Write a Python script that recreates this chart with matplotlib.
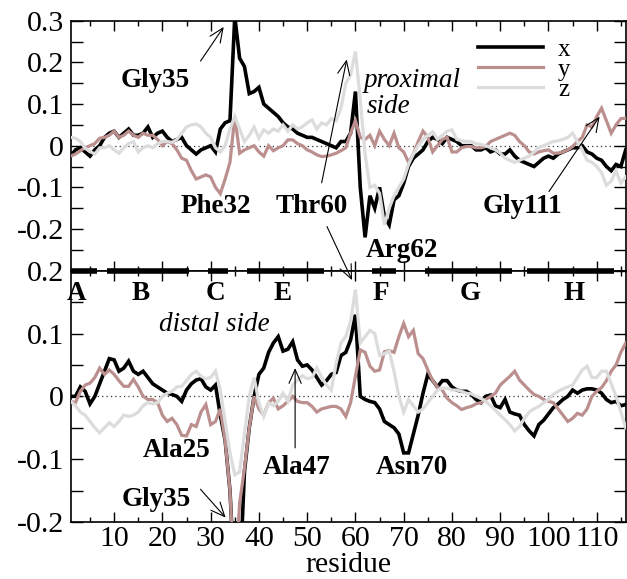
import numpy as np
import matplotlib
matplotlib.use("Agg")
import matplotlib.pyplot as plt
from matplotlib.patches import ConnectionPatch
from matplotlib.ticker import MultipleLocator, FixedLocator, FixedFormatter

plt.rcParams['font.family'] = ['Liberation Serif', 'DejaVu Serif']

residue = list(range(1, 117))

top_x = [-0.025, -0.01, -0.005, -0.015, -0.025, -0.01, 0.0, 0.02, 0.03, 0.035,
         0.02, 0.03, 0.04, 0.025, 0.025, 0.03, 0.045, 0.02, 0.03, 0.035,
         0.02, 0.01, 0.015, 0.02, 0.0, -0.01, -0.02, -0.01, -0.005, 0.0,
         -0.015, 0.04, 0.055, 0.06, 0.31, 0.21, 0.19, 0.125, 0.13, 0.14,
         0.10, 0.09, 0.08, 0.07, 0.055, 0.045, 0.04, 0.03, 0.025, 0.02,
         0.02, 0.015, 0.01, 0.005, 0.0, -0.005, 0.01, 0.01, 0.03, 0.13,
         -0.10, -0.22, -0.12, -0.15, -0.10, -0.17, -0.19, -0.13, -0.12, -0.09,
         -0.05, -0.03, -0.02, -0.01, 0.01, 0.02, 0.015, 0.005, 0.02, 0.015,
         0.01, 0.0, 0.0, 0.0, -0.01, -0.01, -0.005, -0.015, -0.01, -0.02,
         -0.02, -0.01, -0.025, -0.035, -0.04, -0.045, -0.05, -0.04, -0.03, -0.025,
         -0.03, -0.02, -0.015, -0.01, -0.005, -0.005, 0.0, -0.015, -0.02, -0.03,
         -0.035, -0.05, -0.06, -0.045, -0.05, -0.01]

top_y = [-0.025, -0.02, -0.012, -0.005, 0.0, 0.005, 0.018, 0.02, 0.025, 0.035,
         0.02, 0.025, 0.035, 0.025, 0.02, 0.03, 0.025, 0.025, 0.015, 0.0,
         0.01, 0.005, -0.01, -0.03, -0.035, -0.06, -0.08, -0.075, -0.07, -0.075,
         -0.10, -0.115, -0.08, -0.04, 0.07, -0.018, -0.01, -0.005, 0.0, -0.015,
         -0.025, 0.0, -0.012, -0.005, 0.0, 0.014, 0.014, 0.005, 0.0, -0.01,
         -0.015, -0.022, -0.026, -0.025, -0.022, -0.018, -0.012, -0.005, 0.03, 0.06,
         0.02, 0.015, 0.025, 0.0, 0.035, 0.015, 0.0, 0.03, -0.005, -0.015,
         -0.04, -0.02, 0.01, 0.035, 0.02, -0.015, 0.0, 0.015, 0.02, -0.015,
         -0.015, -0.005, -0.002, -0.002, -0.005, -0.005, -0.002, 0.01, 0.015, 0.02,
         0.025, 0.03, 0.025, 0.01, 0.0, -0.015, -0.02, -0.015, -0.012, -0.01,
         -0.018, -0.018, -0.015, -0.01, -0.002, 0.01, 0.02, 0.05, 0.045, 0.07,
         0.09, 0.06, 0.03, 0.05, 0.065, 0.066]

top_z = [0.02, 0.018, 0.01, -0.006, -0.014, -0.02, -0.005, -0.005, 0.0, -0.01,
         -0.018, -0.005, 0.005, 0.01, -0.015, -0.005, 0.0, -0.005, 0.005, 0.01,
         0.01, 0.008, 0.015, 0.03, 0.045, 0.05, 0.052, 0.045, 0.03, 0.02,
         -0.005, -0.015, 0.0, 0.04, 0.07, 0.04, 0.01, 0.025, 0.045, 0.018,
         0.038, 0.03, 0.04, 0.035, 0.05, 0.035, 0.05, 0.04, 0.045, 0.055,
         0.062, 0.04, 0.055, 0.05, 0.065, 0.06, 0.09, 0.15, 0.17, 0.226,
         0.11, -0.02, -0.10, -0.095, -0.114, -0.19, -0.15, -0.12, -0.10, -0.08,
         -0.045, -0.02, 0.0, 0.015, 0.025, 0.033, 0.015, 0.025, 0.035, 0.038,
         0.015, 0.012, 0.01, 0.01, 0.005, 0.003, 0.0, -0.005, -0.01, -0.018,
         -0.03, -0.035, -0.04, -0.035, -0.03, -0.025, -0.015, -0.005, 0.0, 0.005,
         0.01, 0.012, 0.015, 0.02, 0.03, 0.01, -0.01, -0.035, -0.04, -0.05,
         -0.065, -0.095, -0.085, -0.06, -0.09, -0.075]

bot_x = [0.0, 0.0, 0.015, 0.008, -0.012, 0.0, 0.02, 0.04, 0.06, 0.058,
         0.04, 0.045, 0.056, 0.04, 0.035, 0.04, 0.03, 0.02, 0.015, 0.01,
         0.005, 0.003, 0.0, -0.008, 0.01, 0.02, 0.026, 0.028, 0.015, 0.01,
         0.018, -0.03, -0.07, -0.15, -0.30, -0.30, -0.12, -0.05, 0.0, 0.035,
         0.045, 0.07, 0.085, 0.095, 0.072, 0.075, 0.087, 0.058, 0.048, 0.05,
         0.042, 0.03, 0.018, 0.025, 0.035, 0.038, 0.065, 0.07, 0.09, 0.13,
         0.0, -0.005, -0.008, -0.01, -0.02, -0.04, -0.045, -0.05, -0.06, -0.09,
         -0.09, -0.06, -0.03, 0.005, 0.035, 0.025, 0.015, 0.025, 0.025, 0.015,
         0.01, 0.008, 0.008, 0.003, -0.005, -0.01, 0.0, 0.002, -0.015, -0.018,
         -0.005, -0.025, -0.028, -0.03, -0.045, -0.055, -0.063, -0.045, -0.038, -0.028,
         -0.018, -0.012, -0.005, 0.0, 0.01, 0.005, 0.01, 0.012, 0.012, 0.01,
         0.005, -0.005, -0.01, -0.008, -0.015, -0.013]

bot_y = [-0.008, -0.01, 0.008, 0.018, 0.021, 0.03, 0.045, 0.035, 0.042, 0.035,
         0.025, 0.016, 0.016, 0.027, 0.015, 0.0, -0.005, -0.005, -0.01, -0.03,
         -0.04, -0.035, -0.045, -0.062, -0.063, -0.045, -0.048, -0.025, -0.013, -0.045,
         -0.04, -0.02, -0.07, -0.15, -0.30, -0.17, -0.115, -0.05, 0.0, -0.02,
         -0.03, -0.01, -0.003, -0.02, -0.015, -0.008, 0.0, -0.008, -0.01, -0.01,
         -0.016, -0.025, -0.02, -0.018, -0.016, -0.016, -0.02, -0.032, -0.01, 0.032,
         0.074, 0.07, 0.048, 0.04, 0.042, 0.071, 0.073, 0.07, 0.095, 0.116,
         0.095, 0.105, 0.068, 0.06, 0.042, 0.025, 0.015, 0.01, -0.003, -0.01,
         -0.015, -0.021, -0.018, -0.016, -0.012, -0.01, -0.005, 0.0, 0.005, 0.018,
         0.025, 0.032, 0.04, 0.026, 0.018, 0.01, 0.003, 0.0, -0.005, -0.008,
         -0.01, -0.02, -0.03, -0.04, -0.035, -0.027, -0.03, -0.02, 0.0, 0.008,
         0.014, 0.025, 0.04, 0.05, 0.07, 0.085]

bot_z = [-0.008, -0.015, -0.025, -0.03, -0.04, -0.05, -0.058, -0.05, -0.042, -0.048,
         -0.04, -0.03, -0.032, -0.03, -0.025, -0.015, -0.01, -0.012, -0.01, 0.0,
         0.005, 0.008, 0.015, 0.016, 0.025, 0.035, 0.04, 0.032, 0.028, 0.03,
         0.04, 0.01, -0.04, -0.09, -0.125, -0.12, -0.06, 0.0, 0.03, -0.01,
         -0.032, -0.01, -0.015, -0.008, 0.005, -0.008, 0.018, 0.026, 0.033, 0.028,
         0.03, 0.045, 0.03, 0.018, 0.01, 0.052, 0.085, 0.095, 0.12, 0.17,
         0.085, 0.095, 0.105, 0.10, 0.065, 0.068, 0.072, 0.04, 0.0, -0.025,
         -0.005, -0.015, -0.025, -0.02, -0.01, 0.0, 0.01, 0.013, 0.013, 0.01,
         0.01, 0.008, 0.005, 0.004, 0.0, -0.003, -0.008, -0.015, -0.022, -0.03,
         -0.037, -0.045, -0.055, -0.048, -0.035, -0.025, -0.02, -0.016, -0.01, -0.005,
         0.003, 0.008, 0.012, 0.015, 0.018, 0.03, 0.042, 0.048, 0.03, 0.03,
         0.04, 0.04, 0.02, 0.0, -0.025, -0.05]

helix_names = ['A', 'B', 'C', 'E', 'F', 'G', 'H']
helix_start = [1, 8.5, 29.5, 37.5, 63.5, 74.5, 95.5]
helix_end = [6.5, 25.5, 33.5, 53.5, 68.5, 92.5, 113.5]
helix_label_x = [2.3, 15.5, 31, 45, 65.3, 83.7, 105.4]

x_ticks = [10, 20, 30, 40, 50, 60, 70, 80, 90, 100, 110]
x_ticklabels = ['10', '20', '30', '40', '50', '60', '70', '80', '90', '100', '110']
top_yticks = [-0.3, -0.2, -0.1, 0.0, 0.1, 0.2, 0.3]
top_yticklabels = ['', '-0.2', '-0.1', '0', '0.1', '0.2', '0.3']
bot_yticks = [-0.2, -0.1, 0.0, 0.1, 0.2]
bot_yticklabels = ['-0.2', '-0.1', '0', '0.1', '0.2']

series_labels = ['x', 'y', 'z']
series_colors = ['#000000', '#bc8f8f', '#dcdcdc']

W, H = 627, 579
fig = plt.figure(figsize=(W / 100, H / 100), dpi=100)
L = 70.7 / W
Wd = (625.7 - 70.7) / W
ax_top = fig.add_axes([L, 1 - 270.7 / H, Wd, 250.0 / H])
ax_bot = fig.add_axes([L, 1 - 522.0 / H, Wd, 251.3 / H])

TICKFS = 21.5
ANFS = 19.5

def style(ax, yticks, ylabels, show_x):
    ax.set_xlim(1, 116)
    ax.xaxis.set_major_locator(FixedLocator(x_ticks))
    ax.xaxis.set_minor_locator(MultipleLocator(5))
    ax.yaxis.set_major_locator(FixedLocator(yticks))
    ax.yaxis.set_major_formatter(FixedFormatter(ylabels))
    ax.yaxis.set_minor_locator(MultipleLocator(0.05))
    if show_x:
        ax.xaxis.set_major_formatter(FixedFormatter(x_ticklabels))
    else:
        ax.set_xticklabels([])
    ax.tick_params(which='both', direction='in', top=True, right=True,
                   labelsize=TICKFS, width=1.0)
    ax.tick_params(which='major', length=7)
    ax.tick_params(which='minor', length=3.5)
    ax.tick_params(axis='y', which='both', length=8.5, pad=5)
    ax.tick_params(axis='x', which='major', pad=3)
    for s in ax.spines.values():
        s.set_linewidth(1.2)
    ax.axhline(0, color='#333333', lw=0.9, ls=(0, (1, 2.5)), zorder=1)

for vals, lab, col in zip([top_x, top_y, top_z], series_labels, series_colors):
    ax_top.plot(residue, vals, color=col, lw=2.6 if lab == 'x' else 2.3, label=lab,
                solid_joinstyle='miter', zorder=3)
for vals, lab, col in zip([bot_x, bot_y, bot_z], series_labels, series_colors):
    ax_bot.plot(residue, vals, color=col, lw=2.6 if lab == 'x' else 2.3,
                solid_joinstyle='miter', zorder=3)

ax_top.set_ylim(-0.3, 0.3)
ax_bot.set_ylim(-0.2, 0.2)
style(ax_top, top_yticks, top_yticklabels, False)
style(ax_bot, bot_yticks, bot_yticklabels, True)
ax_bot.set_xlabel('residue', fontsize=TICKFS, labelpad=0)

leg = ax_top.legend(loc='upper left', bbox_to_anchor=(0.734, 0.93), frameon=False,
                    fontsize=18, handlelength=2.6, handletextpad=0.6,
                    labelspacing=-0.1, borderpad=0, borderaxespad=0)

# secondary structure bars
for s, e in zip(helix_start, helix_end):
    ax_bot.plot([s, e], [0.2, 0.2], color='black', lw=4, solid_capstyle='butt',
                clip_on=False, zorder=5)
for name, xl in zip(helix_names, helix_label_x):
    ax_bot.text(xl, 0.153, name, fontsize=ANFS, fontweight='bold', ha='center',
                va='baseline', clip_on=False)

def label(ax, x, y, s, **kw):
    ax.text(x, y, s, fontsize=ANFS, fontweight='bold', ha='center', va='baseline', **kw)

arrow_kw = dict(arrowstyle='->,head_length=0.5,head_width=0.22', lw=0.8, color='black',
                mutation_scale=20, shrinkA=0, shrinkB=0)

label(ax_top, 18.6, 0.140, 'Gly35')
ax_top.annotate('', xy=(32.7, 0.285), xytext=(27.9, 0.203), arrowprops=arrow_kw)
label(ax_top, 31.0, -0.162, 'Phe32')
label(ax_top, 51.0, -0.162, 'Thr60')
ax_top.annotate('', xy=(58.2, 0.207), xytext=(53.0, -0.089), arrowprops=arrow_kw)
label(ax_top, 69.6, -0.266, 'Arg62')
label(ax_top, 94.5, -0.162, 'Gly111')
ax_top.annotate('', xy=(110.6, 0.070), xytext=(100.1, -0.110), arrowprops=arrow_kw)
ax_top.text(61.6, 0.140, 'proximal', fontsize=ANFS, style='italic', ha='left', va='baseline')
ax_top.text(62.3, 0.078, 'side', fontsize=ANFS, style='italic', ha='left', va='baseline')

con = ConnectionPatch(xyA=(54.1, -0.194), coordsA=ax_top.transData,
                      xyB=(59.3, 0.185), coordsB=ax_bot.transData, **arrow_kw)
fig.add_artist(con)

ax_bot.text(30.8, 0.104, 'distal side', fontsize=ANFS, style='italic', ha='center', va='baseline')
label(ax_bot, 22.9, -0.097, 'Ala25')
label(ax_bot, 47.9, -0.124, 'Ala47')
ax_bot.annotate('', xy=(47.5, 0.045), xytext=(47.5, -0.082), arrowprops=arrow_kw)
label(ax_bot, 18.8, -0.175, 'Gly35')
ax_bot.annotate('', xy=(33.1, -0.193), xytext=(27.9, -0.148), arrowprops=arrow_kw)
label(ax_bot, 71.7, -0.124, 'Asn70')

fig.savefig('out.png', dpi=100)
